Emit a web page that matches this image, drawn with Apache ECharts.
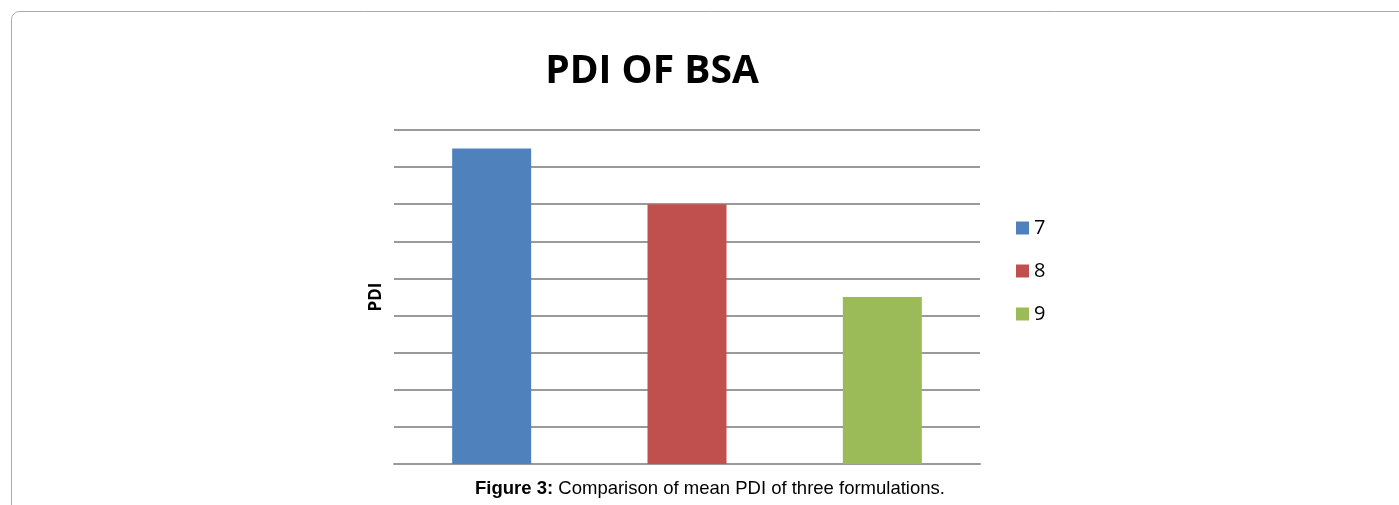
<!DOCTYPE html>
<html>
<head>
<meta charset="utf-8">
<script src="https://cdn.jsdelivr.net/npm/echarts@6/dist/echarts.min.js"></script>
<style>
  html, body { margin: 0; padding: 0; background: #fff; }
  #chart { width: 1399px; height: 505px; }
</style>
</head>
<body>
<div id="chart"></div>
<script>
// Formulations and their mean PDI
const formulations = ['7', '8', '9'];
const meanPdi = [0.425, 0.35, 0.225];
const barColors = ['#4f81bd', '#c0504d', '#9bbb59'];
const axisMax = 0.45;
const axisStep = 0.05;

const chart = echarts.init(document.getElementById('chart'));

// One series per formulation so each gets its own legend entry;
// barGap -100% keeps each bar centred on its own category slot.
const series = formulations.map((name, i) => ({
  name: name,
  type: 'bar',
  barWidth: 79,
  barGap: '-100%',
  itemStyle: { color: barColors[i] },
  data: formulations.map((_, j) => (j === i ? meanPdi[i] : '-'))
}));

chart.setOption({
  animation: false,
  title: {
    text: 'PDI OF BSA',
    left: 647,
    textAlign: 'center',
    top: 47,
    textStyle: { fontFamily: 'Open Sans', fontWeight: 'bold', fontSize: 39, color: '#000' }
  },
  legend: {
    orient: 'vertical',
    left: 1016,
    top: 218,
    padding: 0,
    itemWidth: 13,
    itemHeight: 13,
    itemGap: 23,
    icon: 'rect',
    textStyle: { fontFamily: 'Open Sans', fontSize: 20, color: '#000' }
  },
  grid: { left: 394, right: 419, top: 130, bottom: 41 },
  xAxis: {
    type: 'category',
    data: formulations,
    axisLine: { show: true, lineStyle: { color: '#9a9a9a', width: 2 } },
    axisTick: { show: false },
    axisLabel: { show: false }
  },
  yAxis: {
    type: 'value',
    min: 0,
    max: axisMax,
    interval: axisStep,
    name: 'PDI',
    nameLocation: 'middle',
    nameGap: 9,
    nameRotate: 90,
    nameTextStyle: { fontFamily: 'Open Sans', fontWeight: 'bold', fontSize: 17, color: '#000' },
    axisLine: { show: false },
    axisTick: { show: false },
    axisLabel: { show: false },
    splitLine: { lineStyle: { color: '#9a9a9a', width: 2 } }
  },
  series: series,
  graphic: [
    {
      type: 'rect',
      shape: { x: 11.5, y: 11.5, width: 1500, height: 600, r: 8 },
      style: { fill: 'none', stroke: '#aaaaaa', lineWidth: 1 },
      silent: true
    },
    {
      type: 'text',
      x: 710,
      y: 489,
      style: {
        text: '{b|Figure 3:} Comparison of mean PDI of three formulations.',
        rich: {
          b: { fontFamily: 'Liberation Sans', fontWeight: 'bold', fontSize: 18.5, fill: '#000' }
        },
        fontFamily: 'Liberation Sans',
        fontSize: 18.5,
        fill: '#000',
        align: 'center',
        verticalAlign: 'middle'
      }
    }
  ]
});
</script>
</body>
</html>
